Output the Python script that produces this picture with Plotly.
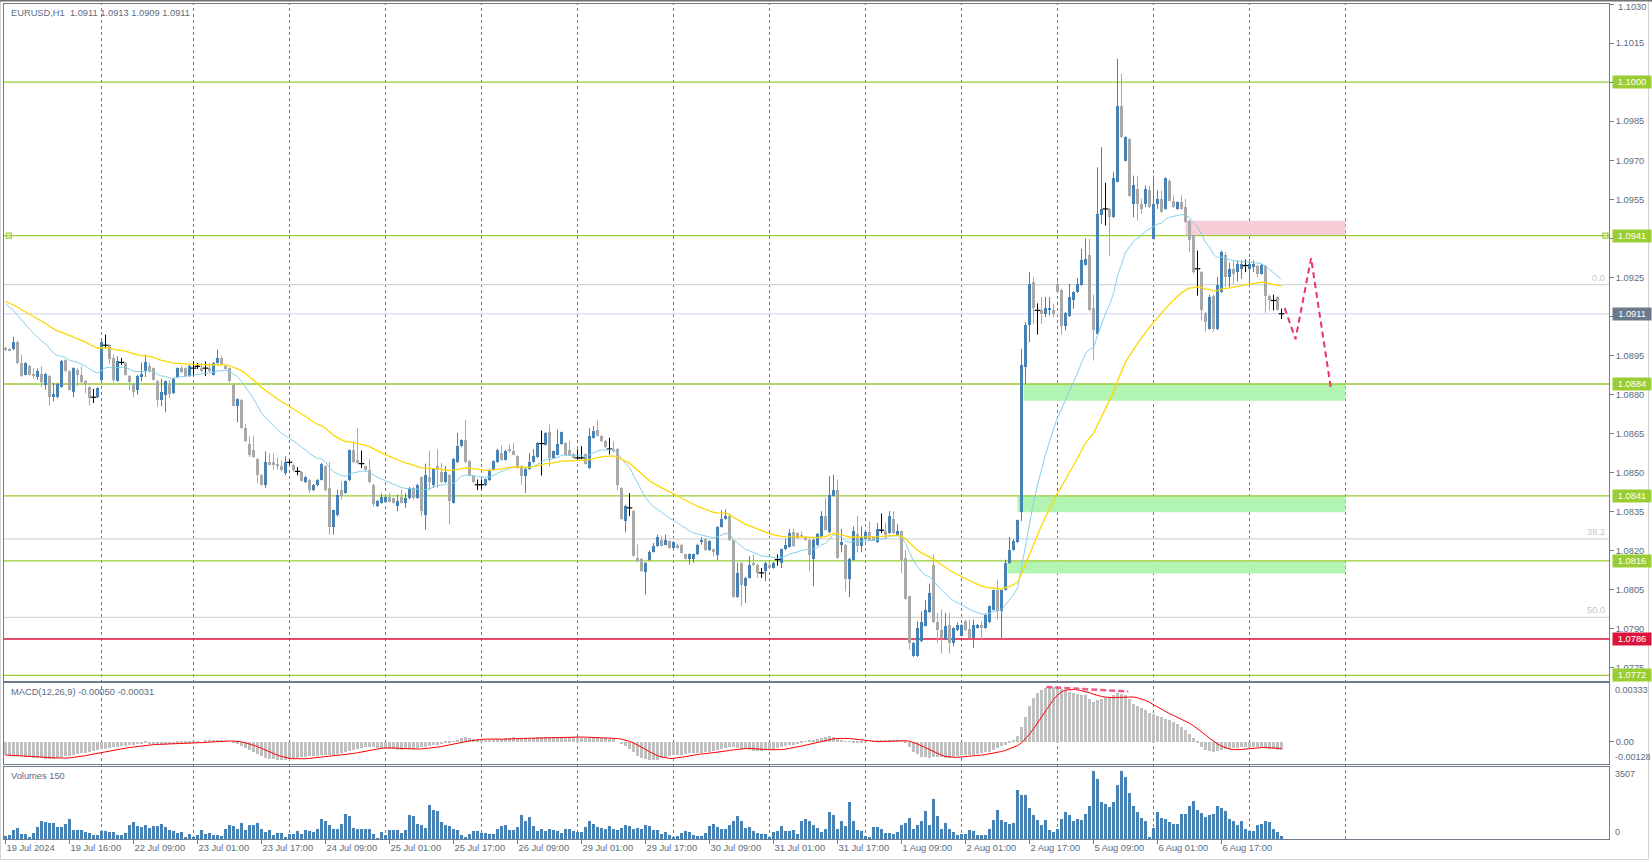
import plotly.graph_objects as go
import pandas as pd

# ---------------- data (prices stored as pips above BASE) ----------------
BASE = 1.0700
PIP = 0.0001
symbol = "EURUSD,H1"

opens_p = [
197.8,197.2,197.4,200.3,192.1,187.6,191.0,188.0,186.7,188.0,
183.7,187.2,178.9,178.9,182.8,193.3,188.9,180.8,189.2,187.6,
185.3,182.8,178.9,178.9,185.6,198.9,198.9,194.0,185.3,192.3,
192.1,187.2,184.1,181.8,186.7,188.9,190.8,190.1,185.3,177.7,
179.9,184.0,180.5,186.7,190.1,190.1,187.0,190.1,190.8,190.1,
190.1,190.1,187.6,192.1,194.0,191.0,190.1,183.7,175.7,178.0,
167.1,161.1,158.5,155.2,149.1,145.3,154.0,154.0,153.4,152.4,
149.8,153.9,153.0,150.4,150.2,146.2,147.2,143.1,145.0,147.2,
152.4,144.0,128.9,133.8,143.4,142.1,147.0,158.5,154.9,153.4,
152.4,151.1,145.3,137.0,138.3,138.8,140.5,140.2,137.0,140.5,
138.3,140.0,144.1,140.2,148.3,133.8,148.3,145.0,152.4,150.1,
146.2,149.2,138.3,153.9,160.1,162.4,154.3,148.8,145.3,145.3,
145.0,147.0,151.1,153.9,157.5,154.9,159.0,158.4,156.2,152.4,
148.8,151.4,154.0,156.0,161.1,160.7,165.4,155.6,156.9,161.0,
161.3,158.5,157.1,155.6,155.6,157.1,151.7,163.3,166.2,164.2,
162.2,159.0,159.0,159.0,144.1,131.2,136.4,135.3,117.2,116.8,
111.6,116.3,119.5,121.7,124.2,122.3,123.6,121.0,122.3,122.3,
118.5,116.9,116.9,118.5,123.2,124.5,120.1,120.4,118.1,129.1,
132.2,133.4,124.0,102.1,115.3,106.3,109.5,115.3,114.6,111.4,
112.1,114.6,113.3,116.5,115.3,120.4,121.4,127.1,126.6,126.1,
125.3,124.2,116.9,122.0,125.2,133.4,127.0,141.1,143.4,122.0,
122.3,109.2,116.5,126.5,121.6,124.4,127.0,125.2,123.2,127.8,
127.4,126.7,132.1,126.1,127.4,117.1,102.4,79.4,79.4,85.1,
91.1,96.3,114.6,92.4,89.6,86.0,91.5,84.5,89.3,87.3,
92.8,89.8,86.4,90.2,91.5,90.2,92.4,97.3,104.7,96.6,
105.0,115.2,120.3,123.2,134.7,190.5,206.5,223.1,212.3,212.6,
211.0,212.3,212.6,222.5,220.3,206.2,210.1,216.1,219.3,222.1,
229.9,233.4,213.1,203.3,249.1,251.3,251.3,248.1,261.8,291.0,
269.9,278.2,253.0,259.0,253.2,253.2,258.4,239.8,253.0,255.2,
251.3,262.2,254.5,251.3,253.9,252.0,246.8,241.1,228.3,227.0,
211.4,205.2,218.0,205.0,219.3,233.4,225.1,228.3,227.0,228.3,
229.5,228.3,228.9,229.5,226.3,229.5,218.0,216.1,217.4,211.0]

highs_p = [
198.3,197.9,202.1,200.6,195.3,192.4,191.4,190.1,189.9,190.8,
188.3,187.5,184.4,184.5,193.3,193.6,189.2,190.4,190.1,190.8,
185.6,183.1,182.1,182.8,200.6,203.0,199.2,195.3,194.6,194.0,
192.4,187.5,184.4,187.5,192.3,195.3,192.3,190.4,185.6,186.0,
185.3,185.6,186.3,190.4,191.0,190.4,191.4,192.7,192.1,192.1,
192.7,192.1,192.4,197.2,194.9,191.4,190.4,184.0,178.5,178.3,
168.7,163.9,164.1,155.5,149.4,158.1,157.5,157.2,155.9,154.7,
156.2,154.9,153.3,152.1,150.5,148.6,147.5,145.6,147.5,153.7,
152.7,154.0,135.7,143.4,146.6,147.0,158.8,162.0,167.1,158.4,
152.7,155.2,145.6,139.5,141.9,140.8,142.1,140.5,141.5,143.4,
142.1,144.4,144.4,145.6,148.6,153.4,158.4,151.7,159.0,153.7,
152.4,149.5,155.5,165.2,162.7,170.3,154.9,149.1,147.3,147.3,
147.6,151.4,154.6,159.0,160.3,158.7,160.7,161.3,156.5,152.7,
151.7,157.5,159.0,161.6,166.1,165.5,168.4,158.4,166.5,165.7,
161.6,162.0,157.4,158.8,160.1,157.4,167.1,167.8,170.1,164.5,
162.5,163.3,162.0,159.3,144.4,137.6,142.1,135.6,122.3,117.1,
115.5,120.0,122.9,126.1,125.5,126.1,123.9,123.6,122.6,122.6,
118.8,118.8,118.8,122.6,125.2,124.8,123.9,120.7,129.4,135.5,
135.8,134.1,124.3,115.3,115.6,109.8,117.8,118.5,114.9,113.3,
115.6,115.5,115.6,118.5,120.7,124.5,128.3,128.3,126.9,127.4,
125.6,124.5,124.5,126.8,135.1,140.2,148.5,149.2,147.2,128.3,
122.6,117.2,129.3,133.4,129.3,127.3,131.2,125.5,130.6,134.2,
130.6,135.1,135.1,130.2,127.7,120.3,102.7,84.8,92.8,96.6,
100.9,107.3,118.4,96.0,97.3,96.0,96.0,90.5,92.4,91.8,
93.4,93.4,93.4,91.8,92.8,95.7,98.9,105.0,108.8,105.0,
116.5,125.2,124.4,131.9,197.5,207.8,227.0,225.1,215.0,217.4,
217.4,217.4,214.8,223.8,220.6,211.7,222.5,219.6,224.7,236.0,
240.0,239.8,218.3,267.3,275.0,261.3,251.6,265.4,309.0,303.2,
279.2,278.5,264.1,264.1,255.2,260.3,260.3,264.1,258.4,258.4,
263.4,262.8,256.5,254.2,256.5,255.2,247.1,241.4,235.3,227.3,
211.7,218.3,218.3,225.1,235.3,234.7,230.6,231.5,231.5,231.5,
231.8,232.1,231.5,229.8,230.1,229.8,218.3,218.3,217.7,213.0]

lows_p = [
196.6,196.6,197.0,191.8,186.7,187.3,187.3,185.9,185.6,182.8,
181.8,175.7,177.3,178.5,182.5,188.5,181.5,178.9,183.1,184.4,
180.5,175.7,176.7,178.6,185.3,197.6,191.8,184.6,185.0,191.4,
187.3,181.8,178.9,179.9,185.0,186.7,188.5,185.3,175.2,175.4,
173.1,178.6,180.1,186.3,188.2,186.7,186.7,187.2,189.8,188.5,
187.0,188.5,187.3,191.8,191.4,189.5,184.6,175.4,169.3,166.8,
161.7,155.9,155.6,145.9,145.0,144.0,152.7,151.1,151.1,150.5,
148.9,153.0,150.5,148.9,146.5,145.9,142.1,142.8,144.7,146.9,
142.8,126.1,126.1,133.2,139.6,141.8,146.7,153.6,153.4,151.7,
150.5,145.9,137.0,136.7,138.0,138.5,138.5,138.0,135.1,138.0,
136.4,139.7,139.7,139.9,133.2,128.0,143.2,144.1,144.1,145.9,
145.9,130.0,138.0,153.6,159.8,153.6,148.5,145.9,143.2,143.7,
144.7,146.7,150.8,153.6,154.6,154.6,157.8,156.6,151.4,145.3,
142.1,151.1,153.7,155.7,148.8,160.4,152.4,155.3,156.6,160.7,
156.6,156.3,155.3,154.9,155.2,153.0,151.4,163.0,163.9,161.7,
159.4,156.9,157.8,143.2,131.8,127.0,133.2,117.7,115.6,111.7,
103.1,115.9,119.2,121.4,121.6,122.0,120.7,120.7,120.7,118.8,
116.6,114.6,115.3,118.2,122.3,119.8,119.8,117.8,116.3,128.8,
131.9,123.7,101.8,101.8,98.6,99.9,109.2,114.0,109.5,109.5,
108.2,113.0,113.0,114.2,113.3,120.1,121.1,121.4,124.6,125.0,
123.6,112.1,106.3,121.7,124.9,127.7,126.7,140.8,116.8,119.3,
104.3,102.1,116.2,119.3,119.3,124.1,123.9,123.6,122.9,126.7,
124.2,126.4,126.4,125.8,111.4,101.1,81.9,79.1,79.1,84.8,
90.8,96.0,92.1,84.5,80.4,85.7,80.4,83.2,89.0,87.0,
89.0,86.1,82.6,89.9,85.7,89.9,92.1,97.0,93.4,86.4,
104.7,114.9,120.0,122.9,131.3,184.1,200.1,207.1,203.0,207.1,
209.7,210.3,209.7,218.7,203.0,204.6,209.8,212.9,219.0,221.8,
229.6,212.0,193.0,203.0,245.6,244.9,233.1,247.8,261.5,278.6,
269.6,255.9,248.1,246.8,249.4,252.0,251.7,239.5,251.3,249.8,
251.0,254.2,251.7,251.0,251.0,245.9,234.7,226.3,218.0,208.4,
204.2,204.9,204.2,204.7,219.0,221.2,221.2,222.5,223.4,224.4,
227.0,221.2,227.0,225.1,226.0,211.4,212.3,212.3,212.3,209.0]

closes_p = [
196.9,196.9,200.3,192.1,187.0,192.1,187.6,187.0,189.1,184.8,
188.0,178.9,180.2,184.1,193.0,188.9,181.8,190.1,187.6,184.8,
184.0,178.6,178.9,182.3,200.3,198.9,193.6,185.6,193.0,192.3,
187.6,184.8,180.8,187.2,188.0,192.3,188.9,185.6,177.7,180.8,
185.0,180.1,186.0,190.1,188.5,187.0,191.0,190.1,190.8,188.9,
190.1,188.9,192.1,194.0,191.7,189.8,185.0,175.7,178.2,167.1,
162.0,156.8,155.9,148.9,145.3,154.0,153.0,153.0,152.4,150.8,
154.0,153.9,150.8,150.4,146.8,148.3,143.1,145.3,147.2,153.4,
143.1,128.9,135.4,141.5,140.9,146.6,158.5,153.9,153.7,153.4,
150.8,146.2,138.0,139.2,140.5,140.5,138.8,138.3,139.2,138.3,
140.2,143.7,140.0,145.3,135.1,149.2,146.2,151.4,150.8,146.2,
150.1,138.9,155.2,160.3,162.4,153.9,148.8,146.2,145.3,145.3,
147.3,151.1,154.3,158.5,154.9,158.4,158.1,156.9,151.7,148.8,
151.4,154.0,156.2,161.3,161.1,165.2,155.6,158.1,161.0,165.4,
156.9,156.6,155.6,155.6,155.6,153.3,164.2,166.1,164.2,162.0,
159.7,159.0,158.1,145.0,132.1,137.3,136.4,118.0,115.9,112.0,
115.2,119.5,121.7,125.2,121.9,124.2,121.0,123.3,121.0,119.1,
116.9,118.5,118.5,122.3,124.2,120.1,123.6,119.4,129.1,132.2,
133.4,124.0,102.1,111.4,106.9,109.5,114.6,114.3,111.2,111.4,
115.3,113.3,115.3,116.5,120.4,122.3,126.8,121.7,124.9,125.3,
123.9,118.1,124.2,126.5,133.4,128.0,141.5,143.4,117.1,123.3,
109.2,116.9,127.4,121.6,125.2,127.0,124.2,123.9,128.3,127.8,
126.1,133.4,126.7,127.4,116.5,101.4,84.5,84.5,90.2,92.4,
97.3,103.7,92.4,89.3,86.4,91.1,84.5,90.2,91.5,91.5,
89.3,86.4,91.5,91.5,90.2,95.4,98.6,104.7,96.6,104.7,
115.2,120.3,123.5,131.6,191.4,206.5,222.5,213.1,212.3,211.0,
213.1,213.1,211.0,219.3,206.2,211.4,217.4,219.3,222.5,231.5,
232.1,212.3,204.6,249.4,251.3,251.3,248.1,263.1,291.0,278.9,
278.9,256.2,260.3,253.2,251.1,259.0,252.0,253.0,255.2,250.1,
263.1,254.5,252.0,253.9,251.3,246.2,239.2,227.0,228.3,212.3,
208.0,217.4,205.0,221.9,234.7,225.1,228.3,226.3,230.2,230.2,
229.5,230.2,230.2,226.3,229.8,218.0,216.1,216.1,212.6,211.0]

volumes = [
130,180,420,540,260,230,65,290,585,860,810,780,780,585,585,730,960,455,455,455,
340,310,210,180,375,375,340,340,195,195,290,665,830,615,585,665,520,650,650,730,
585,420,375,290,325,65,230,100,180,420,230,290,180,180,130,500,665,615,470,780,
420,665,665,780,500,340,455,210,290,290,65,230,230,375,230,420,375,325,500,960,
860,665,500,500,715,1235,1105,550,470,500,500,500,230,15,325,195,420,420,420,290,
455,1150,1105,715,665,540,1640,1400,1365,830,665,615,500,420,180,100,230,405,405,310,
275,230,260,470,615,665,420,420,585,1150,860,1070,615,375,470,375,500,420,375,290,
500,470,375,340,340,585,875,750,585,535,470,635,500,420,560,700,610,480,520,500,
665,615,420,420,230,340,180,100,160,310,375,325,180,130,145,310,635,750,585,500,
470,700,860,1105,860,535,585,375,310,260,230,100,325,375,615,375,375,420,260,860,
990,860,665,535,340,500,1300,1185,500,875,635,1800,860,420,375,130,100,585,585,470,
310,290,260,340,700,780,1040,500,700,875,1350,665,1930,1105,500,780,500,340,180,260,
260,420,375,210,210,210,500,910,1400,910,830,750,780,2370,2160,2160,1510,1185,910,700,
910,420,340,470,960,1315,1150,860,990,910,1235,1610,3300,2940,1800,1720,1560,1800,2650,3300,
3020,2240,1610,1315,1020,860,100,535,1315,1020,990,830,750,750,1235,1235,1610,1835,1400,1280,
1070,1150,1235,1590,1510,1350,960,875,700,875,500,375,390,700,750,860,830,500,340,150]

# MACD main line, in units of 0.00001
macd_e5 = [
-77,-79,-80,-82,-83,-86,-89,-91,-94,-96,-98,-100,-102,-95,-87,-84,-80,-76,-72,-68,
-63,-58,-53,-48,-44,-40,-37,-34,-31,-28,-25,-22,-19,-16,-13,-11,-12,-14,-16,-17,
-17,-15,-13,-11,-9,-7,-6,-4,-2,0,3,5,8,6,4,2,0,-6,-15,-26,
-38,-49,-60,-72,-83,-93,-98,-102,-104,-104,-103,-100,-97,-93,-90,-88,-85,-83,-81,-79,
-78,-77,-77,-72,-66,-61,-55,-48,-42,-36,-30,-31,-33,-35,-36,-39,-42,-45,-49,-47,
-45,-43,-40,-36,-33,-29,-25,-21,-17,-12,-8,-6,2,10,18,25,20,16,12,9,
10,11,12,13,15,18,21,23,22,20,18,17,20,23,26,28,28,28,28,28,
28,26,24,22,19,20,21,22,23,21,18,15,13,0,-13,-26,-40,-60,-80,-96,
-102,-108,-107,-106,-96,-87,-82,-77,-75,-74,-71,-68,-66,-64,-63,-62,-58,-55,-47,-40,
-35,-30,-33,-36,-40,-44,-49,-52,-55,-52,-49,-46,-43,-36,-30,-25,-21,-17,-13,-5,
2,6,11,16,21,27,32,26,21,11,2,-2,-6,-4,-3,-2,0,2,4,6,
8,11,10,9,2,-6,-30,-59,-73,-87,-90,-93,-90,-87,-90,-93,-91,-89,-83,-77,
-76,-75,-74,-69,-64,-61,-59,-47,-36,-26,-17,-5,8,30,80,140,200,245,275,292,
303,308,310,305,300,291,282,277,272,267,263,244,225,235,244,249,253,265,278,272,
266,240,215,203,191,177,164,155,146,138,130,121,112,97,83,64,45,20,-6,-30,
-49,-54,-59,-54,-49,-44,-40,-38,-36,-34,-32,-32,-32,-34,-36,-38,-40,-43,-47,-50]
macd_signal_header = -0.00031

# moving averages: EMA periods and their values at the first visible bar (pips)
ema_fast_period, ema_fast_first = 21, 215.1
ema_slow_period, ema_slow_first = 50, 215.8

tick_labels = ["19 Jul 2024", "19 Jul 16:00", "22 Jul 09:00", "23 Jul 01:00", "23 Jul 17:00",
               "24 Jul 09:00", "25 Jul 01:00", "25 Jul 17:00", "26 Jul 09:00", "29 Jul 01:00",
               "29 Jul 17:00", "30 Jul 09:00", "31 Jul 01:00", "31 Jul 17:00", "1 Aug 09:00",
               "2 Aug 01:00", "2 Aug 17:00", "5 Aug 09:00", "6 Aug 01:00", "6 Aug 17:00"]
tick_bars = [0, 16, 32, 48, 64, 80, 96, 112, 128, 144, 160, 176, 192, 208, 224, 240, 256, 272, 288, 304]
grid_bars = [24, 47, 71, 95, 119, 143, 167, 191, 215, 239, 263, 287, 311, 335]
price_ticks = [1.0775, 1.0790, 1.0805, 1.0820, 1.0835, 1.0850, 1.0865, 1.0880, 1.0895,
               1.0910, 1.0925, 1.0940, 1.0955, 1.0970, 1.0985, 1.1000, 1.1015, 1.1030]

green_levels = [1.1000, 1.0941, 1.0884, 1.0841, 1.0816, 1.0772]
red_level = 1.0786
bid_level = 1.0911
fib_0, fib_100 = 1.09222, 1.06664
fib_pcts = [0.0, 38.2, 50.0]

support_zones = [  # (bar from, bar to, top price, bottom price)
    (254.5, 335, 1.08840, 1.08776),
    (253.0, 335, 1.08410, 1.08347),
    (250.5, 335, 1.08160, 1.08112)]
resistance_zone = (295, 335, 1.09467, 1.09410)
forecast_bars = [319.8, 322.5, 326.4, 331.4]
forecast_prices = [1.09132, 1.09012, 1.09324, 1.08818]
div_bars = [260.2, 280.7]
div_vals = [0.00310, 0.00285]
macd_scale = [-0.00128, 0.00333]
volume_scale = [0, 3507]

# ---------------- derived ----------------
O = [BASE + v * PIP for v in opens_p]
Hh = [BASE + v * PIP for v in highs_p]
Ll = [BASE + v * PIP for v in lows_p]
C = [BASE + v * PIP for v in closes_p]
n = len(C)
idx = list(range(n))


def ema(vals, period, first):
    a = 2.0 / (period + 1)
    out = [first]
    for v in vals[1:]:
        out.append(out[-1] + a * (v - out[-1]))
    return [BASE + v * PIP for v in out]


ema_fast = ema(closes_p, ema_fast_period, ema_fast_first)
ema_slow = ema(closes_p, ema_slow_period, ema_slow_first)
macd_vals = [v * 1e-5 for v in macd_e5]
macd_signal = pd.Series(macd_vals).rolling(9, min_periods=1).mean().tolist()

up = [i for i in idx if C[i] > O[i]]
dn = [i for i in idx if C[i] < O[i]]
dj = [i for i in idx if C[i] == O[i]]

BLUE = "#4682B4"
GRAY = "#A9A9A9"
FRAME = "#6F7B8A"
TXT = "#5C6B80"
LGREEN = "#9ACD32"
FONT = "Liberation Sans"
FS = 9.3
W, Hpx = 1652, 862


def pxx(p):
    return p / W


def pxy(p):
    return 1 - p / Hpx


x_range = [-0.375, 400.875]
y_main = [1.0769848, 1.1030056]


def wick_xy(ids):
    xs, ys = [], []
    for i in ids:
        xs += [i, i, None]
        ys += [Ll[i], Hh[i], None]
    return xs, ys


fig = go.Figure()

for ids, col in ((up, BLUE), (dn, GRAY), (dj, "black")):
    xs, ys = wick_xy(ids)
    fig.add_trace(go.Scatter(x=xs, y=ys, mode="lines", line=dict(color=col, width=1),
                             hoverinfo="skip", showlegend=False, xaxis="x", yaxis="y"))

fig.add_trace(go.Bar(x=up, base=[O[i] for i in up], y=[C[i] - O[i] for i in up], width=0.75,
                     marker=dict(color=BLUE, line=dict(width=0)), showlegend=False,
                     hoverinfo="skip", xaxis="x", yaxis="y"))
fig.add_trace(go.Bar(x=dn, base=[C[i] for i in dn], y=[O[i] - C[i] for i in dn], width=0.75,
                     marker=dict(color=GRAY, line=dict(width=0)), showlegend=False,
                     hoverinfo="skip", xaxis="x", yaxis="y"))
fig.add_trace(go.Scatter(x=dj, y=[C[i] for i in dj], mode="markers",
                         marker=dict(symbol="line-ew", size=4, line=dict(color="black", width=1.2)),
                         showlegend=False, hoverinfo="skip", xaxis="x", yaxis="y"))

fig.add_trace(go.Scatter(x=idx, y=ema_fast, mode="lines", line=dict(color="#87CEEB", width=1),
                         showlegend=False, hoverinfo="skip", xaxis="x", yaxis="y"))
fig.add_trace(go.Scatter(x=idx, y=ema_slow, mode="lines", line=dict(color="#FFD700", width=1.3),
                         showlegend=False, hoverinfo="skip", xaxis="x", yaxis="y"))

fig.add_trace(go.Scatter(x=forecast_bars, y=forecast_prices, mode="lines",
                         line=dict(color="#F0306A", width=2, dash="6px,4px"),
                         showlegend=False, hoverinfo="skip", xaxis="x", yaxis="y"))

# small anchor squares of the 1.0941 line
fig.add_trace(go.Scatter(x=[x_range[0] + 1.2, x_range[1] - 0.9], y=[green_levels[1]] * 2, mode="markers",
                         marker=dict(symbol="square-open", size=5, color=LGREEN, line=dict(width=1.2)),
                         showlegend=False, hoverinfo="skip", xaxis="x", yaxis="y"))

# MACD
fig.add_trace(go.Bar(x=idx, y=macd_vals, width=0.75, marker=dict(color="#C0C0C0", line=dict(width=0)),
                     showlegend=False, hoverinfo="skip", xaxis="x2", yaxis="y2"))
fig.add_trace(go.Scatter(x=idx, y=macd_signal, mode="lines", line=dict(color="#FF0000", width=1),
                         showlegend=False, hoverinfo="skip", xaxis="x2", yaxis="y2"))
fig.add_trace(go.Scatter(x=div_bars, y=div_vals, mode="lines",
                         line=dict(color="rgba(240,60,110,0.85)", width=2.5, dash="6px,3px"),
                         showlegend=False, hoverinfo="skip", xaxis="x2", yaxis="y2"))

# Volumes
fig.add_trace(go.Bar(x=idx, y=volumes, width=0.75, marker=dict(color=BLUE, line=dict(width=0)),
                     showlegend=False, hoverinfo="skip", xaxis="x3", yaxis="y3"))

shapes = []
# window frame
shapes.append(dict(type="rect", xref="paper", yref="paper", x0=0.0003, x1=pxx(1648.5), y0=pxy(859.5), y1=0.9995,
                   line=dict(color="#D4D4D4", width=1), layer="below"))
shapes.append(dict(type="line", xref="paper", yref="paper", x0=0, x1=1, y0=pxy(0.8), y1=pxy(0.8),
                   line=dict(color="#707070", width=1.6), layer="below"))
# zones
for (b0, b1, top, bot) in support_zones:
    shapes.append(dict(type="rect", xref="x", yref="y", x0=b0, x1=b1, y0=bot, y1=top,
                       fillcolor="#B2F5B2", line=dict(width=0), layer="below"))
shapes.append(dict(type="rect", xref="x", yref="y", x0=resistance_zone[0], x1=resistance_zone[1],
                   y0=resistance_zone[3], y1=resistance_zone[2], fillcolor="#F8CCD7",
                   line=dict(width=0), layer="below"))
# fib lines
for pct in fib_pcts:
    lvl = fib_0 - (fib_0 - fib_100) * pct / 100.0
    shapes.append(dict(type="line", xref="x", yref="y", x0=x_range[0], x1=x_range[1], y0=lvl, y1=lvl,
                       line=dict(color="#D6D6D6", width=1.3), layer="below"))
# bid line
shapes.append(dict(type="line", xref="x", yref="y", x0=x_range[0], x1=x_range[1], y0=bid_level, y1=bid_level,
                   line=dict(color="#E2E2F6", width=1.3), layer="below"))
# vertical dashed grid across all panels
for g in grid_bars:
    shapes.append(dict(type="line", xref="x", yref="paper", x0=g, x1=g, y0=pxy(839), y1=pxy(4),
                       line=dict(color="#6E7A88", width=1, dash="3px,3px"), layer="below"))
# horizontal levels
for lvl in green_levels:
    shapes.append(dict(type="line", xref="x", yref="y", x0=x_range[0], x1=x_range[1], y0=lvl, y1=lvl,
                       line=dict(color=LGREEN, width=1.3), layer="below"))
shapes.append(dict(type="line", xref="x", yref="y", x0=x_range[0], x1=x_range[1], y0=red_level, y1=red_level,
                   line=dict(color="#DC143C", width=1.3), layer="below"))

ann = []
ann.append(dict(text=f"{symbol}\u00a0\u00a0{O[-1]:.4f} {Hh[-1]:.4f} {Ll[-1]:.4f} {C[-1]:.4f}",
                xref="paper", yref="paper", x=pxx(9), y=pxy(12.7), xanchor="left", yanchor="middle",
                showarrow=False, font=dict(family=FONT, size=FS, color=TXT)))
ann.append(dict(text=f"MACD(12,26,9) {macd_vals[-1]:.5f} {macd_signal_header:.5f}",
                xref="paper", yref="paper", x=pxx(9), y=pxy(692), xanchor="left", yanchor="middle",
                showarrow=False, font=dict(family=FONT, size=FS, color=TXT)))
ann.append(dict(text=f"Volumes {volumes[-1]}", xref="paper", yref="paper", x=pxx(9), y=pxy(775.5),
                xanchor="left", yanchor="middle", showarrow=False, font=dict(family=FONT, size=FS, color=TXT)))

# top price label (kept inside the page like the terminal does)
ann.append(dict(text=f"{price_ticks[-1]:.4f}", xref="paper", yref="paper", x=pxx(1616), y=pxy(6.5),
                xanchor="left", yanchor="middle", showarrow=False, font=dict(family=FONT, size=FS, color=TXT)))

# price boxes on the right scale
boxes = [(lvl, LGREEN) for lvl in green_levels] + [(bid_level, "#6B7A8B"), (red_level, "#DC143C")]
for lvl, col in boxes:
    ann.append(dict(text=f"{lvl:.4f}", xref="paper", yref="y", x=pxx(1612), y=lvl, xanchor="left",
                    yanchor="middle", showarrow=False, bgcolor=col, borderpad=1, width=36, align="center",
                    font=dict(family=FONT, size=FS, color="white")))
# fib labels
for pct in fib_pcts:
    lvl = fib_0 - (fib_0 - fib_100) * pct / 100.0
    ann.append(dict(text=f"{pct:.1f}", xref="paper", yref="y", x=pxx(1607), y=lvl, xanchor="right",
                    yanchor="bottom", showarrow=False, font=dict(family=FONT, size=FS, color="#C8C8C8")))
# MACD / volume scale ends
for txt, yy, ya, yr in ((f"{macd_scale[1]:.5f}", macd_scale[1], "top", "y2"),
                        (f"{macd_scale[0]:.5f}", macd_scale[0], "bottom", "y2"),
                        (f"{volume_scale[1]}", volume_scale[1], "top", "y3"),
                        (f"{volume_scale[0]}", volume_scale[0], "bottom", "y3")):
    ann.append(dict(text=txt, xref="paper", yref=yr, x=pxx(1612.5), y=yy, xanchor="left", yanchor=ya,
                    showarrow=False, font=dict(family=FONT, size=9, color=TXT)))

axis_common = dict(showline=True, mirror=True, linecolor=FRAME, linewidth=1, showgrid=False, zeroline=False)

fig.update_layout(
    width=W, height=Hpx, margin=dict(l=0, r=0, t=0, b=0),
    paper_bgcolor="white", plot_bgcolor="white", barmode="overlay", bargap=0,
    showlegend=False, shapes=shapes, annotations=ann,
    font=dict(family=FONT, size=FS, color=TXT),
    xaxis=dict(domain=[pxx(4), pxx(1609)], range=x_range, anchor="y", showticklabels=False, ticks="",
               **axis_common),
    xaxis2=dict(domain=[pxx(4), pxx(1609)], matches="x", anchor="y2", showticklabels=False, ticks="",
                **axis_common),
    xaxis3=dict(domain=[pxx(4), pxx(1609)], matches="x", anchor="y3", tickmode="array",
                tickvals=tick_bars, ticktext=tick_labels, ticks="outside", ticklen=4, tickcolor=FRAME,
                ticklabelposition="outside right", tickfont=dict(family=FONT, size=FS, color=TXT),
                **axis_common),
    yaxis=dict(domain=[pxy(681), pxy(4)], range=y_main, anchor="x", side="right", tickmode="array",
               tickvals=price_ticks, ticktext=[f"{t:.4f}" for t in price_ticks], ticks="outside", ticklen=4,
               tickcolor=FRAME, tickfont=dict(family=FONT, size=FS, color=TXT), **axis_common),
    yaxis2=dict(domain=[pxy(764), pxy(683)], range=macd_scale, anchor="x2", side="right",
                tickmode="array", tickvals=[0], ticktext=["0.00"], ticks="outside", ticklen=4, tickcolor=FRAME,
                tickfont=dict(family=FONT, size=FS, color=TXT), **axis_common),
    yaxis3=dict(domain=[pxy(839), pxy(767)], range=volume_scale, anchor="x3", side="right",
                tickmode="array", tickvals=[], ticks="", **axis_common),
)

fig.write_html("out.html", config={"displayModeBar": False},
               post_script="document.body.style.margin='0px';document.body.style.overflow='hidden';")
